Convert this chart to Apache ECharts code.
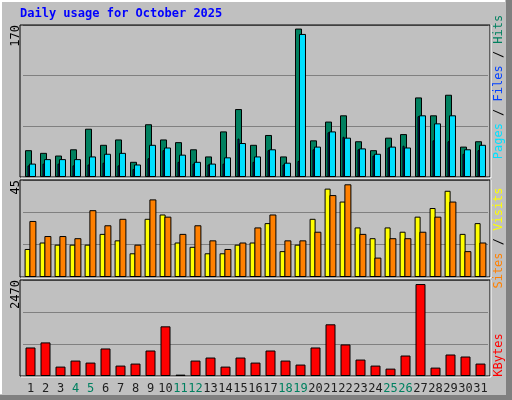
<!DOCTYPE html>
<html><head><meta charset="utf-8">
<script src="https://cdn.jsdelivr.net/npm/echarts@6/dist/echarts.min.js"></script>
<style>html,body{margin:0;padding:0;background:#c0c0c0}#c{width:512px;height:400px}</style>
</head><body><div id="c"></div>
<script>
const days = Array.from({length:31},(_,i)=>String(i+1));
const weekend = ['4','5','11','12','18','19','25','26'];
const hits  = [30,27,24,31,54,36,42,17,59,42,39,31,23,51,76,36,47,23,166,41,62,69,40,30,44,48,89,69,92,34,40];
const files = [13,15,15,13,14,16,13,9,21,30,17,15,14,15,43,17,30,14,18,31,50,45,31,24,33,35,68,41,40,26,30];
const pages = [15,20,20,20,23,26,27,14,36,33,25,17,15,22,38,23,31,16,160,34,51,44,32,26,34,33,69,60,69,31,36];
const visits = [13,16,15,15,15,20,17,11,27,29,16,14,11,11,15,16,25,12,15,27,41,35,23,18,23,21,28,32,40,20,25];
const sites  = [26,19,19,18,31,24,27,15,36,28,20,24,17,13,16,23,29,17,17,21,38,43,20,9,18,18,21,28,35,12,16];
const kbytes = [734,864,242,397,345,708,268,320,656,1278,35,397,475,242,475,345,656,397,294,734,1330,812,423,268,190,527,2366,216,553,501,320];
const maxTicks = [170,45,2470];
const title = 'Daily usage for October 2025';

const mono = 'DejaVu Sans Mono';
const panels = [[25,177],[180,277],[280,376]];
const grids = panels.map(p=>({left:23,width:465,top:p[0],height:p[1]-p[0]}));
const xA = [], yA = [];
grids.forEach((g,i)=>{
  xA.push({type:'category',data:days,gridIndex:i,show:i===2,axisLine:{show:false},axisTick:{show:false},
    axisLabel:{show:i===2,margin:7,fontFamily:mono,fontSize:12,interval:0,
      color:(v)=>weekend.includes(v)?'#008060':'#202020'}});
  yA.push({type:'value',gridIndex:i,min:0,max:maxTicks[i],interval:maxTicks[i]/3,axisLabel:{show:false},
    axisLine:{show:false},axisTick:{show:false},splitLine:{lineStyle:{color:'#808080',width:1}}});
});
// hidden axis for files bars
xA.push({type:'category',data:days,gridIndex:0,show:false});
const bs = {borderColor:'#000',borderWidth:1};
const series = [
  {type:'bar',xAxisIndex:0,yAxisIndex:0,data:hits,barWidth:7,barGap:'-43%',itemStyle:{color:'#00805f',...bs},z:2},
  {type:'bar',xAxisIndex:0,yAxisIndex:0,data:pages,barWidth:7,itemStyle:{color:'#00e0ff',...bs},z:4},
  {type:'bar',xAxisIndex:3,yAxisIndex:0,data:files,barWidth:2,barGap:'0%',itemStyle:{color:'#0040ff',...bs},z:3},
  {type:'bar',xAxisIndex:3,yAxisIndex:0,data:files.map(()=>0),barWidth:4,itemStyle:{color:'transparent'}},
  {type:'bar',xAxisIndex:1,yAxisIndex:1,data:visits,barWidth:6,barGap:'-20%',itemStyle:{color:'#ffff00',...bs}},
  {type:'bar',xAxisIndex:1,yAxisIndex:1,data:sites,barWidth:7,itemStyle:{color:'#ff8000',...bs}},
  {type:'bar',xAxisIndex:2,yAxisIndex:2,data:kbytes,barWidth:10,itemStyle:{color:'#ff0000',...bs}}
];
const graphic = [
  {type:'rect',shape:{x:0,y:0,width:512,height:400},style:{fill:'#c0c0c0'},z:-10},
  {type:'rect',shape:{x:506,y:0,width:6,height:400},style:{fill:'#808080'},z:-9},
  {type:'rect',shape:{x:0,y:395,width:512,height:5},style:{fill:'#808080'},z:-9},
  {type:'polyline',shape:{points:[[1,394],[1,1],[505,1]]},style:{stroke:'#fff',lineWidth:2,fill:null},z:-8},
  {type:'text',left:20,top:8,style:{text:title,fill:'#0000ff',font:'bold 12px "DejaVu Sans Mono"'}}
];
panels.forEach((p,i)=>{
  graphic.push({type:'rect',shape:{x:20,y:p[0],width:470,height:p[1]-p[0]},
    style:{fill:'none',stroke:'#000',lineWidth:1},z:10});
  graphic.push({type:'line',shape:{x1:21,y1:p[1]+1,x2:491,y2:p[1]+1},style:{stroke:'#fff',lineWidth:1},z:10});
  graphic.push({type:'line',shape:{x1:491,y1:p[0],x2:491,y2:p[1]+1},style:{stroke:'#fff',lineWidth:1},z:10});
  graphic.push({type:'text',x:10,y:p[0],rotation:Math.PI/2,
    style:{text:String(maxTicks[i]),fill:'#000',font:'12px "DejaVu Sans Mono"',align:'right',verticalAlign:'top'}});
});
const rlab = (y,rich,parts)=>({type:'text',x:493,y:y,rotation:Math.PI/2,
  style:{text:parts,rich:rich,font:'12px "DejaVu Sans Mono"',align:'center',verticalAlign:'top'}});
const rf = c=>({fill:c,font:'12px "DejaVu Sans Mono"'});
graphic.push(rlab(87,{p:rf('#00e0ff'),s:rf('#000'),f:rf('#0040ff'),h:rf('#00805f')},'{p|Pages} {s|/} {f|Files} {s|/} {h|Hits}'));
graphic.push(rlab(238,{a:rf('#ff8000'),s:rf('#000'),v:rf('#ffff00')},'{a|Sites} {s|/} {v|Visits}'));
graphic.push(rlab(355,{k:rf('#ff0000')},'{k|KBytes}'));

const chart = echarts.init(document.getElementById('c'));
chart.setOption({animation:false,backgroundColor:'#c0c0c0',grid:grids,xAxis:xA,yAxis:yA,series,graphic});
</script></body></html>
